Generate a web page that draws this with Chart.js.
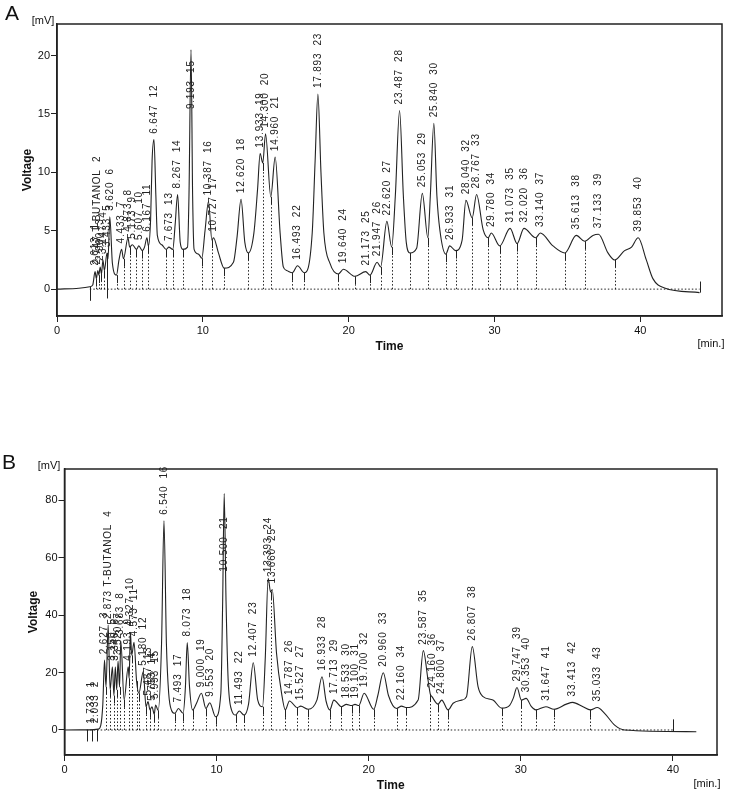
<!DOCTYPE html>
<html>
<head>
<meta charset="utf-8">
<script src="https://cdn.jsdelivr.net/npm/chart.js@4.4.1/dist/chart.umd.min.js"></script>
<style>
  body { margin: 0; background: #fff; }
  #wrap { position: relative; width: 750px; height: 793px; font-family: "Liberation Sans", Arial, sans-serif; color: #111; }
  .box { position: absolute; left: 0; width: 750px; }
  .txt { position: absolute; font-size: 11px; white-space: nowrap; transform: translate(-50%, -50%); }
  .panel { position: absolute; font-size: 21px; transform: translate(-50%, -50%); }
</style>
</head>
<body>
<div id="wrap">
  <div class="box" style="top:0;height:390px"><canvas id="chartA"></canvas></div>
  <div class="box" style="top:390px;height:403px"><canvas id="chartB"></canvas></div>
  <span class="panel" style="left:12px;top:13px">A</span>
  <span class="panel" style="left:9px;top:462px">B</span>
  <span class="txt" style="left:43px;top:20px">[mV]</span>
  <span class="txt" style="left:49px;top:465px">[mV]</span>
  <span class="txt" style="left:711px;top:343px">[min.]</span>
  <span class="txt" style="left:707px;top:783px">[min.]</span>
</div>
<script>
// ticks
const xTicks = [0, 10, 20, 30, 40];
const yTicksA = [0, 5, 10, 15, 20];
const yTicksB = [0, 20, 40, 60, 80];

// panel A trace (min, mV)
const timeA = [0, 1.5, 2.25, 2.45, 2.61, 2.7, 2.8, 2.87, 2.96, 3.05, 3.15, 3.25, 3.43, 3.5, 3.62, 3.8, 4.08,
  4.25, 4.43, 4.56, 4.87, 4.98, 5.17, 5.45, 5.61, 5.85, 6.0, 6.17, 6.27, 6.42, 6.52, 6.65, 6.78, 6.88,
  7.19, 7.49, 7.67, 7.94, 8.1, 8.27, 8.45, 8.63, 8.95, 9.05, 9.19, 9.3, 9.4, 9.7, 9.93, 10.15, 10.39,
  10.62, 10.73, 11.07, 11.46, 12.1, 12.35, 12.62, 12.88, 13.12, 13.5, 13.75, 13.93, 14.11, 14.3, 14.66,
  14.96, 15.3, 15.52, 15.75, 16.14, 16.49, 16.96, 17.5, 17.7, 17.89, 18.1, 18.3, 18.72, 19.29, 19.64,
  20.43, 21.17, 21.46, 21.95, 22.19, 22.62, 22.95, 23.2, 23.49, 23.75, 23.95, 24.2, 24.66, 25.05, 25.43,
  25.6, 25.84, 26.05, 26.25, 26.66, 26.93, 27.33, 27.78, 28.04, 28.47, 28.77, 29.22, 29.56, 29.78, 30.36,
  31.07, 31.55, 32.02, 32.83, 33.14, 34.01, 34.82, 35.61, 36.18, 36.75, 37.13, 37.78, 38.24, 38.92, 39.4,
  39.85, 40.41, 40.86, 41.66, 44.06];
const voltA = [0, 0.08, 0.2, 0.35, 1.5, 0.9, 1.6, 1.2, 1.9, 1.3, 2.5, 1.6, 3.1, 2.6, 6.2, 2.2, 1.2,
  2.5, 3.4, 2.6, 4.4, 3.6, 3.8, 3.4, 3.7, 3.3, 3.6, 4.4, 3.7, 6.0, 11.0, 12.8, 8.0, 4.6,
  3.8, 3.4, 3.6, 3.4, 5.5, 8.1, 4.0, 3.4, 3.6, 8.0, 20.5, 8.0, 3.4, 3.0, 2.65, 5.0, 7.5,
  4.2, 4.4, 3.1, 1.8, 2.3, 4.5, 7.7, 4.0, 3.1, 4.8, 8.5, 11.6, 10.8, 13.3, 7.9,
  11.3, 4.8, 1.9, 1.6, 1.4, 2.0, 1.4, 4.8, 11.0, 16.7, 10.0, 4.8, 2.2, 1.3, 1.7,
  1.1, 1.5, 1.2, 2.3, 1.9, 5.8, 3.6, 8.0, 15.3, 8.0, 4.0, 3.1, 3.5, 8.2, 4.4,
  8.0, 14.2, 8.0, 5.1, 3.0, 3.7, 3.3, 4.2, 7.6, 6.1, 8.1, 5.1, 4.4, 4.8, 3.7,
  5.2, 3.9, 5.2, 4.4, 4.8, 3.7, 3.1, 4.6, 4.1, 4.6, 4.7, 3.1, 2.5, 3.3, 3.6,
  4.4, 2.5, 0.9, 0.1, -0.3];
const peakTimeA = [2.613, 2.747, 2.960, 3.147, 3.433, 3.620, 4.433, 4.873, 5.173, 5.607, 6.167, 6.647,
  7.673, 8.267, 9.193, 10.387, 10.727, 12.620, 13.933, 14.300, 14.960, 16.493, 17.893, 19.640, 21.173,
  21.947, 22.620, 23.487, 25.053, 25.840, 26.933, 28.040, 28.767, 29.780, 31.073, 32.020, 33.140,
  35.613, 37.133, 39.853];
const peakNameA = { 2: "T-BUTANOL" };
const labelAnchorA = { 15: 14.9 };
const dropA = [2.7, 2.87, 3.05, 3.25, 4.08, 4.56, 4.98, 5.45, 5.85, 6.27, 7.49, 7.94, 8.63, 9.93, 10.62,
  11.46, 13.12, 14.11, 14.66, 16.14, 16.96, 19.29, 20.43, 21.46, 22.19, 22.95, 24.2, 25.43, 26.66, 27.33,
  28.47, 29.56, 30.36, 31.55, 32.83, 34.82, 36.18, 38.24];
const markA = [[2.25, -1.0, 0.2], [3.43, -0.8, 3.1], [44.06, -0.3, 0.65]];

// panel B trace
const timeB = [0, 1.6, 2.22, 2.38, 2.52, 2.63, 2.73, 2.87, 3.0, 3.15, 3.25, 3.34, 3.43, 3.52, 3.62, 3.7,
  3.92, 4.19, 4.25, 4.33, 4.42, 4.57, 4.74, 4.89, 5.18, 5.36, 5.49, 5.62, 5.75, 5.9, 5.99, 6.16, 6.38,
  6.54, 6.7, 6.85, 7.04, 7.26, 7.49, 7.8, 7.95, 8.07, 8.22, 8.42, 8.68, 9.0, 9.3, 9.55, 9.93, 10.28,
  10.4, 10.5, 10.62, 10.76, 10.98, 11.25, 11.49, 11.81, 12.1, 12.41, 12.7, 13.02, 13.2, 13.39, 13.55,
  13.66, 13.94, 14.27, 14.52, 14.79, 15.3, 15.53, 16.02, 16.6, 16.93, 17.2, 17.44, 17.71, 18.21, 18.53,
  18.87, 19.1, 19.35, 19.7, 20.33, 20.6, 20.96, 21.3, 21.83, 22.16, 22.44, 23.25, 23.59, 23.9, 24.05,
  24.16, 24.56, 24.8, 25.22, 25.55, 26.1, 26.43, 26.81, 27.19, 27.52, 28.17, 28.75, 29.27, 29.5, 29.75,
  30.04, 30.35, 30.7, 30.98, 31.65, 32.18, 33.0, 33.41, 34.09, 34.57, 35.03, 35.51, 36.17, 36.83, 41.54];
const voltB = [0, 0.05, 0.3, 1.5, 9, 24.3, 15, 36.5, 14, 22, 12, 22, 14, 24, 15, 31,
  10.5, 22, 18, 34, 26, 30.5, 17, 12.8, 20.3, 8.1, 9.9, 7, 8.1, 5.5, 8.7, 6.8, 30,
  72.8, 30, 12.8, 6.8, 5.8, 7.5, 5.8, 15, 30.4, 15, 7, 9.3, 12.8, 7.5, 9.5, 4.6, 12.8,
  45, 82.3, 45, 17.4, 7, 5.2, 6.6, 5.2, 9, 23.4, 10.5, 8.1, 25, 52.8, 48,
  48.9, 26.7, 12.8, 7, 10.1, 7.8, 8.3, 7.2, 10.5, 18.5, 10, 7.0, 10.4, 8.1, 8.9,
  8.5, 8.9, 8.5, 12.8, 7.2, 12, 19.9, 12, 7.5, 8.3, 7.8, 10.4, 27.6, 17.4, 12.5,
  11.6, 9, 10.4, 7, 9.3, 10.4, 11.6, 29.0, 15.1, 11.6, 10.4, 7.6, 8.6, 11, 14.8,
  10.4, 11.0, 8.1, 7.0, 8.1, 7.2, 9, 9.6, 8.1, 7.0, 7.8, 5.8, 1.7, 0, -0.6];
const peakTimeB = [1.733, 2.033, 2.627, 2.873, 3.150, 3.340, 3.520, 3.683, 4.193, 4.327, 4.573, 5.180,
  5.487, 5.753, 5.993, 6.540, 7.493, 8.073, 9.000, 9.553, 10.500, 11.493, 12.407, 13.393, 13.660,
  14.787, 15.527, 16.933, 17.713, 18.533, 19.100, 19.700, 20.960, 22.160, 23.587, 24.160, 24.800,
  26.807, 29.747, 30.353, 31.647, 33.413, 35.033];
const peakNameB = { 4: "T-BUTANOL" };
const labelAnchorB = { 21: 53 };
const dropB = [2.73, 3.0, 3.25, 3.43, 3.62, 3.92, 4.25, 4.42, 4.74, 4.89, 5.36, 5.62, 5.9, 6.16, 7.26,
  7.8, 8.42, 9.3, 9.93, 11.25, 11.81, 13.02, 13.55, 14.52, 15.3, 16.02, 17.44, 18.21, 18.87, 19.35,
  20.33, 21.83, 22.44, 24.05, 24.56, 25.22, 28.75, 30.04, 30.98, 32.18, 34.57];
const markB = [[1.46, -4, 0], [1.79, -4, 0], [2.12, -4, 0.2], [40.0, -0.5, 3.7]];

const INK = "#222";
const FONT = '"Liberation Sans", Arial, sans-serif';

const makeChart = (id, p) => {
  const valueAt = (t) => {
    const ts = p.times, vs = p.volts;
    for (let i = 0; i < ts.length - 1; i++) {
      if (t >= ts[i] && t <= ts[i + 1]) {
        const f = (t - ts[i]) / (ts[i + 1] - ts[i]);
        return vs[i] + f * (vs[i + 1] - vs[i]);
      }
    }
    return 0;
  };
  const peakTop = (t) => {
    let best = null;
    p.times.forEach((tt, i) => {
      if (Math.abs(tt - t) <= 0.12 && (best === null || p.volts[i] > best)) best = p.volts[i];
    });
    return best === null ? valueAt(t) : best;
  };

  const chromPlugin = {
    id: "chrom_" + id,
    afterDatasetsDraw(chart) {
      const { ctx, chartArea: a, scales: { x, y } } = chart;
      const y0 = y.getPixelForValue(0);
      ctx.save();
      ctx.strokeStyle = INK;
      ctx.lineWidth = 1;

      // dotted baseline between start and end markers
      ctx.setLineDash([1.5, 2]);
      ctx.beginPath();
      ctx.moveTo(x.getPixelForValue(p.marks[0][0]), y0);
      ctx.lineTo(x.getPixelForValue(p.marks[p.marks.length - 1][0]), y0);
      ctx.stroke();

      // drop lines at the valleys
      p.drops.forEach((t) => {
        const px = Math.round(x.getPixelForValue(t)) + 0.5;
        const top = y.getPixelForValue(valueAt(t));
        const mid = Math.min(top + 8, y0);
        ctx.setLineDash([1.5, 2]);
        ctx.beginPath();
        ctx.moveTo(px, y0);
        ctx.lineTo(px, mid);
        ctx.stroke();
        ctx.setLineDash([]);
        ctx.beginPath();
        ctx.moveTo(px, mid);
        ctx.lineTo(px, top);
        ctx.stroke();
      });

      // solid start / end markers
      ctx.setLineDash([]);
      p.marks.forEach(([t, lo, hi]) => {
        const px = Math.round(x.getPixelForValue(t)) + 0.5;
        ctx.beginPath();
        ctx.moveTo(px, y.getPixelForValue(lo));
        ctx.lineTo(px, y.getPixelForValue(hi));
        ctx.stroke();
      });

      // frame
      ctx.lineWidth = 1.5;
      ctx.strokeRect(a.left, a.top, a.width, a.height);

      // peak labels
      ctx.fillStyle = INK;
      ctx.font = "10px " + FONT;
      if ("letterSpacing" in ctx) ctx.letterSpacing = "0.8px";
      ctx.textAlign = "left";
      ctx.textBaseline = "middle";
      p.peaks.forEach((t, i) => {
        const n = i + 1;
        const anchor = p.anchors[n] !== undefined ? p.anchors[n] : peakTop(t);
        const name = p.names[n] ? " " + p.names[n] : "";
        const text = t.toFixed(3) + name + "  " + n;
        ctx.save();
        ctx.translate(x.getPixelForValue(t), y.getPixelForValue(anchor) - 6);
        ctx.rotate(-Math.PI / 2);
        ctx.fillText(text, 0, 0);
        ctx.restore();
      });
      ctx.restore();
    },
  };

  return new Chart(document.getElementById(id), {
    type: "line",
    data: {
      datasets: [
        {
          data: p.times.map((t, i) => ({ x: t, y: p.volts[i] })),
          borderColor: INK,
          borderWidth: 1.1,
          pointRadius: 0,
          cubicInterpolationMode: "monotone",
          fill: false,
        },
      ],
    },
    options: {
      responsive: true,
      maintainAspectRatio: false,
      animation: false,
      layout: { padding: { top: p.padTop, right: p.padRight, left: 0, bottom: 0 } },
      plugins: { legend: { display: false }, tooltip: { enabled: false } },
      scales: {
        x: {
          type: "linear",
          min: p.xMin,
          max: p.xMax,
          afterBuildTicks: (s) => { s.ticks = xTicks.map((v) => ({ value: v })); },
          afterFit: (s) => { s.height = p.xAxisH; },
          ticks: { color: "#111", padding: 2, maxRotation: 0, autoSkip: false, font: { family: FONT, size: 11 } },
          grid: { display: true, drawOnChartArea: false, drawTicks: true, tickLength: 6, color: INK },
          border: { display: true, color: INK, width: 1.5 },
          title: { display: true, text: "Time", color: "#111", font: { family: FONT, size: 12, weight: "bold" }, padding: { top: 0, bottom: p.timePad } },
        },
        y: {
          min: p.yMin,
          max: p.yMax,
          afterBuildTicks: (s) => { s.ticks = p.yTicks.map((v) => ({ value: v })); },
          afterFit: (s) => { s.width = p.yAxisW; },
          ticks: { color: "#111", padding: 1, font: { family: FONT, size: 11 } },
          grid: { display: true, drawOnChartArea: false, drawTicks: true, tickLength: 6, color: INK },
          border: { display: true, color: INK, width: 1.5 },
          title: { display: true, text: "Voltage", color: "#111", font: { family: FONT, size: 12, weight: "bold" }, padding: { top: p.voltPad, bottom: 0 } },
        },
      },
    },
    plugins: [chromPlugin],
  });
};

makeChart("chartA", {
  times: timeA, volts: voltA, peaks: peakTimeA, names: peakNameA, anchors: labelAnchorA,
  drops: dropA, marks: markA, yTicks: yTicksA,
  xMin: 0, xMax: 45.6, yMin: -2.3, yMax: 22.7,
  padTop: 24, padRight: 28, yAxisW: 57, xAxisH: 74, timePad: 36, voltPad: 20,
});

makeChart("chartB", {
  times: timeB, volts: voltB, peaks: peakTimeB, names: peakNameB, anchors: labelAnchorB,
  drops: dropB, marks: markB, yTicks: yTicksB,
  xMin: 0, xMax: 42.9, yMin: -8.7, yMax: 90.8,
  padTop: 79, padRight: 33, yAxisW: 64.5, xAxisH: 38, timePad: 0, voltPad: 26,
});
</script>
</body>
</html>
